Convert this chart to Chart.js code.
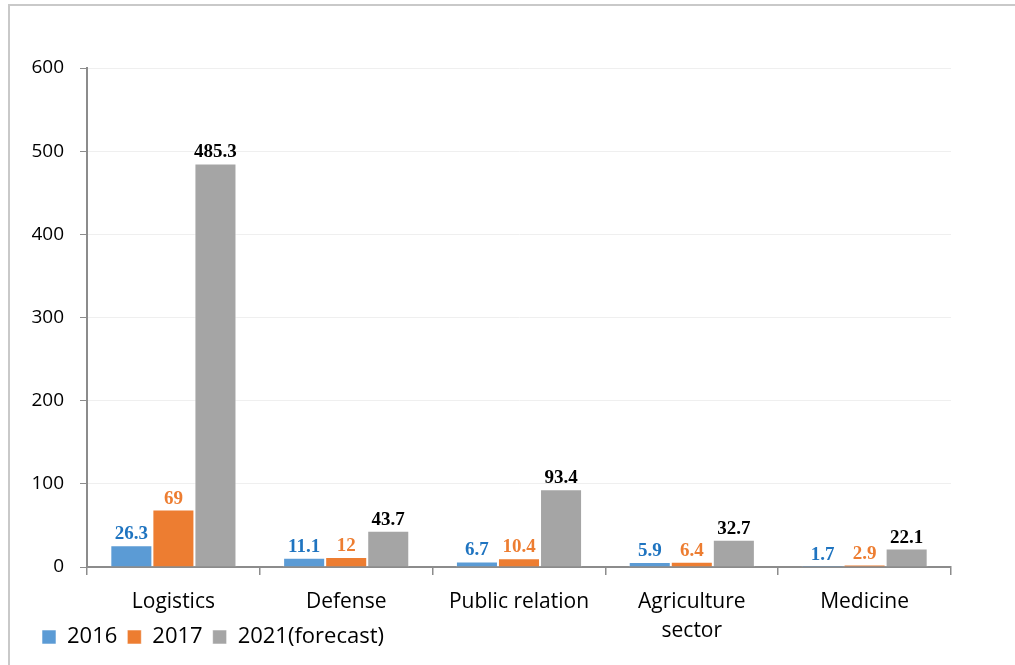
<!DOCTYPE html>
<html lang="en">
<head>
    <meta charset="UTF-8">
    <title>Drone market by sector</title>
    <script src="https://cdn.jsdelivr.net/npm/chart.js"></script>
    <style>
        html, body { margin: 0; padding: 0; background: #fff; }
        #wrap { width: 1015px; height: 665px; }
    </style>
</head>
<body>
    <div id="wrap"><canvas id="sectorChart" width="1015" height="665"></canvas></div>

    <script>
        // data
        const categories = ['Logistics', 'Defense', 'Public relation', ['Agriculture', 'sector'], 'Medicine'];
        const seriesNames = ['2016', '2017', '2021(forecast)'];
        const values2016 = [26.3, 11.1, 6.7, 5.9, 1.7];
        const values2017 = [69, 12, 10.4, 6.4, 2.9];
        const values2021 = [485.3, 43.7, 93.4, 32.7, 22.1];
        const yTicks = [0, 100, 200, 300, 400, 500, 600];

        const barColors = ['#5B9BD5', '#ED7D31', '#A5A5A5'];
        const labelColors = ['#1F74C0', '#ED7D31', '#000000'];
        const sansFont = '"Open Sans", "Liberation Sans", sans-serif';

        // frame line on the top and left edges
        const framePlugin = {
            id: 'frame',
            beforeDraw(chart) {
                const ctx = chart.ctx;
                ctx.save();
                ctx.fillStyle = '#fff';
                ctx.fillRect(0, 0, chart.width, chart.height);
                ctx.strokeStyle = '#c9c9c9';
                ctx.lineWidth = 2;
                ctx.beginPath();
                ctx.moveTo(9, chart.height);
                ctx.lineTo(9, 5);
                ctx.lineTo(chart.width, 5);
                ctx.stroke();
                ctx.restore();
            }
        };

        // let the x labels run down beside the legend (two-line "Agriculture sector")
        const stretchAxis = {
            id: 'stretchAxis',
            afterLayout(chart) {
                const x = chart.scales.x;
                x.bottom = chart.height - 10;
                x.height = x.bottom - x.top;
                const lg = chart.legend;
                if (lg) {
                    lg.top += 3;
                    lg.bottom += 3;
                }
            }
        };

        // value labels above each bar
        const valueLabels = {
            id: 'valueLabels',
            afterDatasetsDraw(chart) {
                const ctx = chart.ctx;
                ctx.save();
                ctx.font = 'bold 19px "Liberation Serif", "Times New Roman", serif';
                ctx.textAlign = 'center';
                ctx.textBaseline = 'alphabetic';
                chart.data.datasets.forEach((ds, i) => {
                    ctx.fillStyle = labelColors[i];
                    chart.getDatasetMeta(i).data.forEach((bar, j) => {
                        ctx.fillText(String(ds.data[j]), bar.x, bar.y - 6);
                    });
                });
                ctx.restore();
            }
        };

        const ctx = document.getElementById('sectorChart').getContext('2d');
        new Chart(ctx, {
            type: 'bar',
            data: {
                labels: categories,
                datasets: [values2016, values2017, values2021].map((vals, i) => ({
                    label: seriesNames[i],
                    data: vals,
                    backgroundColor: barColors[i],
                    borderColor: 'rgba(255,255,255,0.55)',
                    borderWidth: 1,
                    categoryPercentage: 0.73,
                    barPercentage: 1
                }))
            },
            options: {
                responsive: false,
                animation: false,
                layout: { padding: { top: 68, right: 64, bottom: 10, left: 32 } },
                plugins: {
                    tooltip: { enabled: false },
                    legend: {
                        position: 'bottom',
                        align: 'start',
                        labels: {
                            boxWidth: 14,
                            boxHeight: 14,
                            padding: 10,
                            color: '#000',
                            font: { family: sansFont, size: 22 }
                        }
                    }
                },
                scales: {
                    x: {
                        afterFit(scale) { scale.height = 46; },
                        grid: {
                            offset: true,
                            drawOnChartArea: false,
                            color: '#8c8c8c',
                            tickLength: 8,
                            lineWidth: 1.5
                        },
                        border: { color: '#8c8c8c', width: 2 },
                        ticks: {
                            color: '#000',
                            padding: 12,
                            maxRotation: 0,
                            font: { family: sansFont, size: 21, lineHeight: 1.4 }
                        }
                    },
                    y: {
                        min: 0,
                        max: 600,
                        afterFit(scale) { scale.width = 55; },
                        afterBuildTicks(scale) { scale.ticks = yTicks.map(v => ({ value: v })); },
                        grid: {
                            color: '#efefef',
                            tickColor: '#8c8c8c',
                            tickLength: 7,
                            lineWidth: 1
                        },
                        border: { color: '#8c8c8c', width: 2 },
                        ticks: {
                            color: '#000',
                            padding: 16,
                            font: { family: sansFont, size: 19 }
                        }
                    }
                }
            },
            plugins: [framePlugin, stretchAxis, valueLabels]
        });
    </script>
</body>
</html>
